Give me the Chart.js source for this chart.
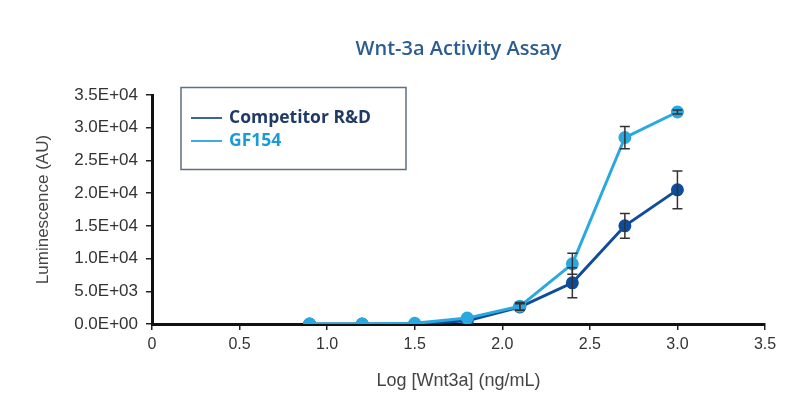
<!DOCTYPE html>
<html>
<head>
<meta charset="utf-8">
<script src="https://cdn.jsdelivr.net/npm/chart.js@4.4.1/dist/chart.umd.min.js"></script>
<style>
  html, body { margin: 0; padding: 0; background: #fff; }
  #wrap { position: relative; width: 800px; height: 413px; }
</style>
</head>
<body>
<div id="wrap"><canvas id="assayChart"></canvas></div>
<script>
const chartTitle = 'Wnt-3a Activity Assay';
const seriesNames = ['Competitor R&D', 'GF154'];
const logDose = [0.9, 1.2, 1.5, 1.8, 2.1, 2.4, 2.7, 3.0];
const competitorValues = [0, 0, 0, 500, 2600, 6300, 15000, 20500];
const competitorErrors = [0, 0, 0, 0, 500, 2300, 1900, 2900];
const gf154Values = [0, 0, 100, 900, 2700, 9200, 28500, 32400];
const gf154Errors = [0, 0, 0, 0, 600, 1600, 1700, 300];
const xTicks = [0, 0.5, 1.0, 1.5, 2.0, 2.5, 3.0, 3.5];
const yTicks = [0, 5000, 10000, 15000, 20000, 25000, 30000, 35000];

const darkBlue = '#0f4c9a';
const lightBlue = '#2aa8e0';

function sciLabel(v) {
  if (v === 0) return '0.0E+00';
  const e = Math.floor(Math.log10(v));
  const m = v / Math.pow(10, e);
  return m.toFixed(1) + 'E+' + String(e).padStart(2, '0');
}

function points(ys) {
  return logDose.map((x, i) => ({ x: x, y: ys[i] }));
}

// vertical error bars, drawn with the chart's own scales
const errorBars = {
  id: 'errorBars',
  afterDatasetsDraw(chart) {
    const { ctx, scales: { x, y } } = chart;
    ctx.save();
    ctx.strokeStyle = '#333';
    ctx.lineWidth = 1.5;
    chart.data.datasets.forEach(ds => {
      ds.errors.forEach((err, i) => {
        if (!err) return;
        const px = x.getPixelForValue(ds.data[i].x);
        const top = y.getPixelForValue(ds.data[i].y + err);
        const bot = y.getPixelForValue(ds.data[i].y - err);
        ctx.beginPath();
        ctx.moveTo(px, top); ctx.lineTo(px, bot);
        ctx.moveTo(px - 5, top); ctx.lineTo(px + 5, top);
        ctx.moveTo(px - 5, bot); ctx.lineTo(px + 5, bot);
        ctx.stroke();
      });
    });
    ctx.restore();
  }
};

// title centred over the plot and a boxed legend inside it
const decorations = {
  id: 'decorations',
  afterDraw(chart) {
    const { ctx, chartArea } = chart;
    ctx.save();
    ctx.fillStyle = '#2b5c92';
    ctx.font = '600 20px "Open Sans"';
    ctx.textAlign = 'center';
    ctx.textBaseline = 'middle';
    ctx.fillText(chartTitle, (chartArea.left + chartArea.right) / 2, 49);

    ctx.strokeStyle = '#5e6f82';
    ctx.lineWidth = 1.5;
    ctx.strokeRect(181, 87.5, 225, 82);

    const rows = [
      { y: 118, line: '#3b6596', text: '#1f3a66' },
      { y: 141, line: '#3aaee0', text: '#1b9bd7' }
    ];
    ctx.textAlign = 'left';
    ctx.font = 'bold 17.5px "Open Sans"';
    rows.forEach((r, i) => {
      ctx.strokeStyle = r.line;
      ctx.lineWidth = 2;
      ctx.beginPath();
      ctx.moveTo(191, r.y); ctx.lineTo(222, r.y);
      ctx.stroke();
      ctx.fillStyle = r.text;
      ctx.fillText(seriesNames[i], 229, r.y);
    });
    ctx.restore();
  }
};

new Chart(document.getElementById('assayChart'), {
  type: 'scatter',
  data: {
    datasets: [
      {
        label: seriesNames[0],
        data: points(competitorValues),
        errors: competitorErrors,
        showLine: true,
        borderColor: darkBlue,
        backgroundColor: darkBlue,
        borderWidth: 3,
        pointRadius: 5,
        order: 1
      },
      {
        label: seriesNames[1],
        data: points(gf154Values),
        errors: gf154Errors,
        showLine: true,
        borderColor: lightBlue,
        backgroundColor: lightBlue,
        borderWidth: 3,
        pointRadius: 5,
        order: 0
      }
    ]
  },
  options: {
    responsive: true,
    maintainAspectRatio: false,
    animation: false,
    layout: { padding: { top: 95, right: 35, bottom: 0, left: 0 } },
    plugins: {
      legend: { display: false },
      title: { display: false },
      tooltip: { enabled: false }
    },
    scales: {
      x: {
        type: 'linear',
        min: 0,
        max: 3.5,
        afterFit(scale) { scale.height = 89; },
        afterBuildTicks(scale) { scale.ticks = xTicks.map(v => ({ value: v })); },
        ticks: {
          padding: 5,
          color: '#333',
          font: { family: '"Liberation Sans"', size: 16 },
          callback: v => (v === 0 ? '0' : v.toFixed(1))
        },
        grid: { drawOnChartArea: false, drawTicks: true, tickLength: 6, color: '#222', lineWidth: 1.5 },
        border: { display: true, color: '#111', width: 3 },
        title: {
          display: true,
          text: 'Log [Wnt3a] (ng/mL)',
          color: '#444',
          font: { family: '"Liberation Sans"', size: 18 },
          padding: { top: 0, bottom: 21 }
        }
      },
      y: {
        min: 0,
        max: 35000,
        afterFit(scale) { scale.width = 152; },
        afterBuildTicks(scale) { scale.ticks = yTicks.map(v => ({ value: v })); },
        ticks: {
          padding: 8,
          color: '#333',
          font: { family: '"Liberation Sans"', size: 17 },
          callback: v => sciLabel(v)
        },
        grid: { drawOnChartArea: false, drawTicks: true, tickLength: 6, color: '#222', lineWidth: 1.5 },
        border: { display: true, color: '#111', width: 3 },
        title: {
          display: true,
          text: 'Luminescence (AU)',
          color: '#444',
          font: { family: '"Liberation Sans"', size: 17 },
          padding: { top: 33, bottom: 0 }
        }
      }
    }
  },
  plugins: [errorBars, decorations]
});
</script>
</body>
</html>
